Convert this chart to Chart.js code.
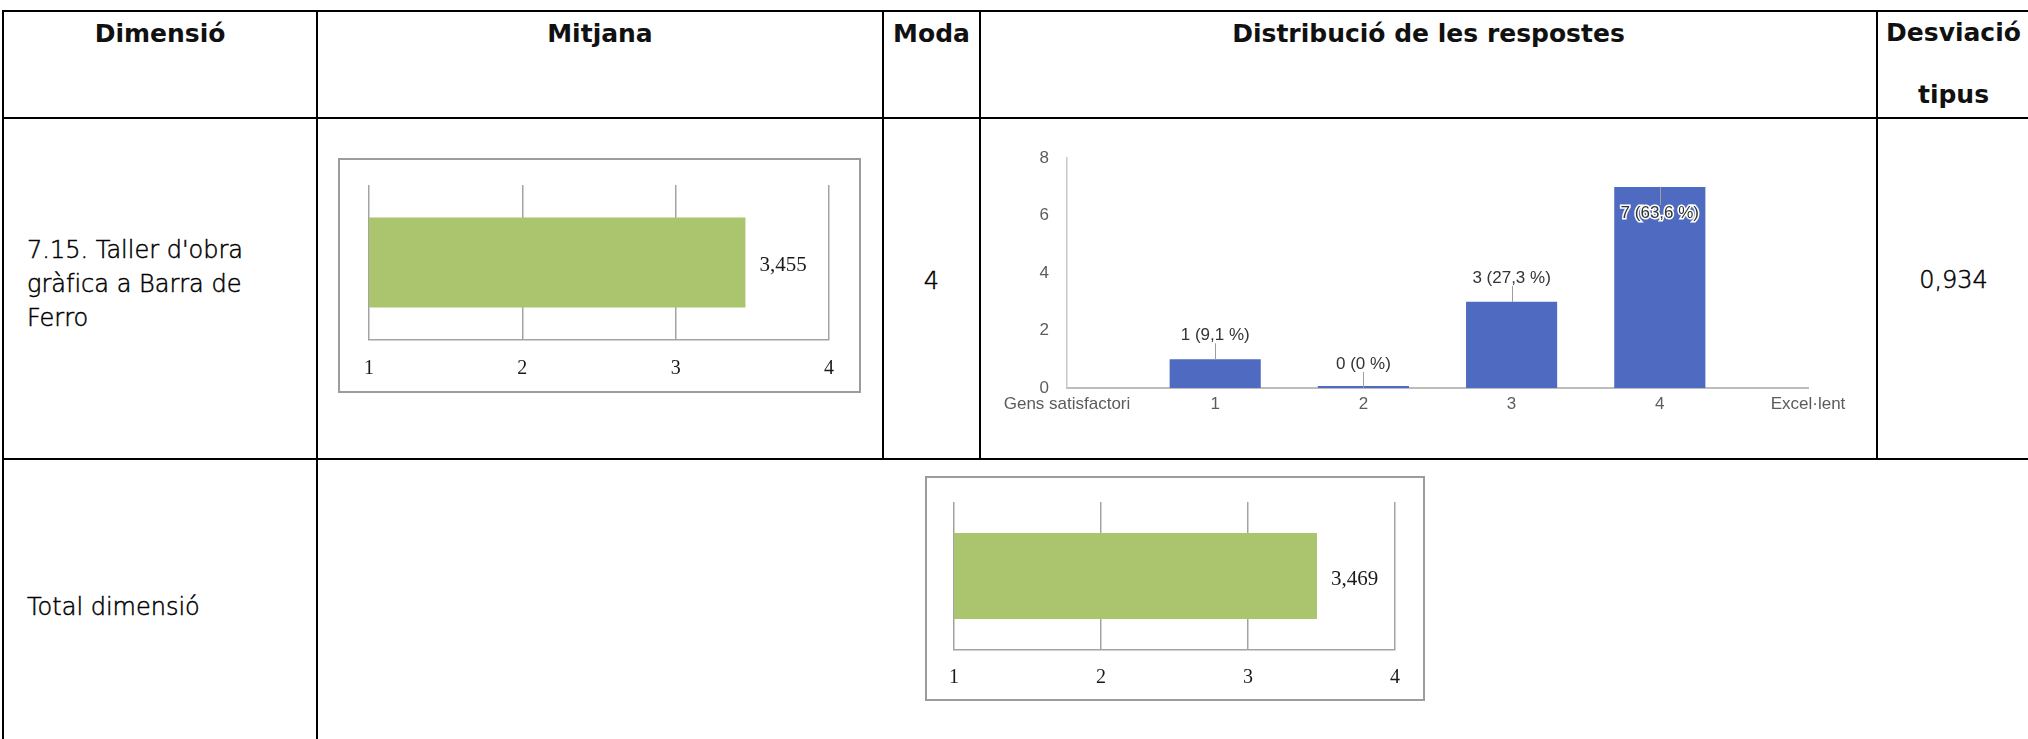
<!DOCTYPE html>
<html lang="ca">
<head>
<meta charset="utf-8">
<title>Taller d'obra gràfica a Barra de Ferro</title>
<script src="https://cdn.jsdelivr.net/npm/chart.js@4.4.1/dist/chart.umd.min.js"></script>
<style>
  html, body { margin: 0; padding: 0; background: #fff; }
  body { width: 2028px; height: 739px; overflow: hidden; position: relative; color: #111; }
  .hl, .vl { position: absolute; background: #000; }
  .hl { height: 2px; }
  .vl { width: 2px; }
  .head { position: absolute; font-family: "DejaVu Sans", sans-serif; font-weight: 700; font-size: 25px; line-height: 30px; text-align: center; white-space: nowrap; }
  .cell { position: absolute; font-family: "DejaVu Sans", sans-serif; font-weight: 300; font-size: 24px; line-height: 34px; white-space: nowrap; color: #000; -webkit-text-stroke: 0.5px #000; }
  .box { position: absolute; border: 2px solid #9c9c9c; box-sizing: border-box; }
  canvas { position: absolute; }
</style>
</head>
<body>
<!-- table grid -->
<div class="hl" style="left:2px;top:10px;width:2030px"></div>
<div class="hl" style="left:2px;top:117px;width:2030px"></div>
<div class="hl" style="left:2px;top:458px;width:2030px"></div>
<div class="hl" style="left:2px;top:750px;width:2030px"></div>
<div class="vl" style="left:2px;top:10px;height:742px"></div>
<div class="vl" style="left:316px;top:10px;height:742px"></div>
<div class="vl" style="left:882px;top:10px;height:450px"></div>
<div class="vl" style="left:979px;top:10px;height:450px"></div>
<div class="vl" style="left:1876px;top:10px;height:450px"></div>
<div class="vl" style="left:2029px;top:10px;height:742px"></div>

<!-- header -->
<div class="head" style="left:4px;width:312px;top:19px">Dimensió</div>
<div class="head" style="left:318px;width:564px;top:19px">Mitjana</div>
<div class="head" style="left:884px;width:95px;top:19px">Moda</div>
<div class="head" style="left:981px;width:895px;top:19px">Distribució de les respostes</div>
<div class="head" style="left:1878px;width:151px;top:18px">Desviació</div>
<div class="head" style="left:1878px;width:151px;top:80px">tipus</div>

<!-- row 1 -->
<div class="cell" style="left:27px;top:233px">7.15. Taller d'obra<br>gràfica a Barra de<br>Ferro</div>
<div class="cell" style="left:884px;width:95px;top:264px;text-align:center">4</div>
<div class="cell" style="left:1878px;width:151px;top:263px;text-align:center">0,934</div>

<!-- row 2 -->
<div class="cell" style="left:27px;top:590px">Total dimensió</div>

<div class="box" style="left:338px;top:158px;width:523px;height:235px"></div>
<canvas id="mitjana1" width="523" height="235" style="left:338px;top:158px"></canvas>

<canvas id="respostes" width="880" height="320" style="left:990px;top:130px"></canvas>

<div class="box" style="left:925px;top:476px;width:500px;height:225px"></div>
<canvas id="mitjanaTotal" width="500" height="225" style="left:925px;top:476px"></canvas>

<script>
const respostaCategories = ['Gens satisfactori', '1', '2', '3', '4', 'Excel·lent'];
const respostaCounts = [null, 1, 0, 3, 7, null];
const respostaTicks = [0, 2, 4, 6, 8];
const mitjanaTicks = [1, 2, 3, 4];
const itemLabel = ["7.15. Taller d'obra gràfica a Barra de Ferro"];
const itemMitjana = [3.455];
const totalLabel = ['Total dimensió'];
const totalMitjana = [3.469];

Chart.defaults.font.family = '"Liberation Sans", Arial, sans-serif';

function comma(v, d) {
    return v.toFixed(d).replace('.', ',');
}

// "3,455" next to the end of the green bar
const valueLabel = {
    id: 'valueLabel',
    afterDatasetsDraw(chart) {
        const ctx = chart.ctx;
        const data = chart.data.datasets[0].data;
        ctx.save();
        ctx.font = '21px "Liberation Serif", serif';
        ctx.fillStyle = '#1a1a1a';
        ctx.textBaseline = 'middle';
        chart.getDatasetMeta(0).data.forEach((bar, i) => {
            ctx.fillText(comma(data[i], 3), bar.x + 14, bar.y + 3);
        });
        ctx.restore();
    }
};

// "n (pct %)" with a small leader line
const countLabel = {
    id: 'countLabel',
    afterDatasetsDraw(chart) {
        const ctx = chart.ctx;
        const data = chart.data.datasets[0].data;
        const total = data.reduce((s, v) => s + (v || 0), 0);
        const yScale = chart.scales.y;
        ctx.save();
        ctx.font = '17px "Liberation Sans", Arial, sans-serif';
        ctx.textAlign = 'center';
        ctx.textBaseline = 'middle';
        chart.getDatasetMeta(0).data.forEach((bar, i) => {
            const v = data[i];
            if (v === null) return;
            const pct = Number((v / total * 100).toFixed(1)).toString().replace('.', ',');
            const text = v + ' (' + pct + ' %)';
            const top = yScale.getPixelForValue(v);
            const inside = v / yScale.max > 0.75;
            const x = Math.round(bar.x) + 0.5;
            ctx.strokeStyle = '#9e9e9e';
            ctx.lineWidth = 1;
            ctx.beginPath();
            ctx.moveTo(x, top);
            ctx.lineTo(x, inside ? top + 18 : top - 16);
            ctx.stroke();
            const ty = inside ? top + 26 : top - 24;
            if (inside) {
                ctx.lineWidth = 3;
                ctx.strokeStyle = '#fff';
                ctx.strokeText(text, bar.x, ty);
            }
            ctx.fillStyle = '#333';
            ctx.fillText(text, bar.x, ty);
        });
        ctx.restore();
    }
};

function mitjanaChart(id, labels, values, pad, axisHeight, tickPad) {
    return new Chart(document.getElementById(id), {
        type: 'bar',
        data: {
            labels: labels,
            datasets: [{
                data: values,
                backgroundColor: '#abc56f',
                barPercentage: 0.58,
                categoryPercentage: 1
            }]
        },
        options: {
            indexAxis: 'y',
            responsive: false,
            animation: false,
            devicePixelRatio: 1,
            layout: { padding: pad },
            plugins: {
                legend: { display: false },
                tooltip: { enabled: false }
            },
            scales: {
                x: {
                    min: 1,
                    max: 4,
                    afterBuildTicks: s => { s.ticks = mitjanaTicks.map(v => ({ value: v })); },
                    afterFit: s => { s.height = axisHeight; },
                    grid: { color: '#a3a3a3', lineWidth: 1.5, drawTicks: false },
                    border: { color: '#a3a3a3', width: 1.5 },
                    ticks: {
                        padding: tickPad,
                        color: '#1a1a1a',
                        font: { family: '"Liberation Serif", serif', size: 20 }
                    }
                },
                y: { display: false }
            }
        },
        plugins: [valueLabel]
    });
}

mitjanaChart('mitjana1', itemLabel, itemMitjana, { left: 31, right: 32, top: 27, bottom: 0 }, 53, 17);
mitjanaChart('mitjanaTotal', totalLabel, totalMitjana, { left: 29, right: 30, top: 26, bottom: 0 }, 51, 16);

new Chart(document.getElementById('respostes'), {
    type: 'bar',
    data: {
        labels: respostaCategories,
        datasets: [{
            data: respostaCounts,
            backgroundColor: '#4f6bc1',
            barPercentage: 0.615,
            categoryPercentage: 1,
            minBarLength: 2
        }]
    },
    options: {
        responsive: false,
        animation: false,
        devicePixelRatio: 1,
        layout: { padding: { left: 0, right: 62, top: 20, bottom: 0 } },
        plugins: {
            legend: { display: false },
            tooltip: { enabled: false }
        },
        scales: {
            x: {
                offset: false,
                grid: { display: false, drawTicks: false },
                border: { color: '#bdbdbd', width: 2 },
                afterFit: s => { s.height = 62; },
                ticks: { padding: 6, color: '#5c5c5c', font: { size: 17 }, autoSkip: false, maxRotation: 0 }
            },
            y: {
                min: 0,
                max: 8,
                afterBuildTicks: s => { s.ticks = respostaTicks.map(v => ({ value: v })); },
                afterFit: s => { s.width = 77; },
                grid: { display: false, drawTicks: false },
                border: { color: '#c8c8c8', width: 1.5 },
                ticks: { padding: 18, color: '#5c5c5c', font: { size: 17 } }
            }
        }
    },
    plugins: [countLabel]
});
</script>
</body>
</html>
